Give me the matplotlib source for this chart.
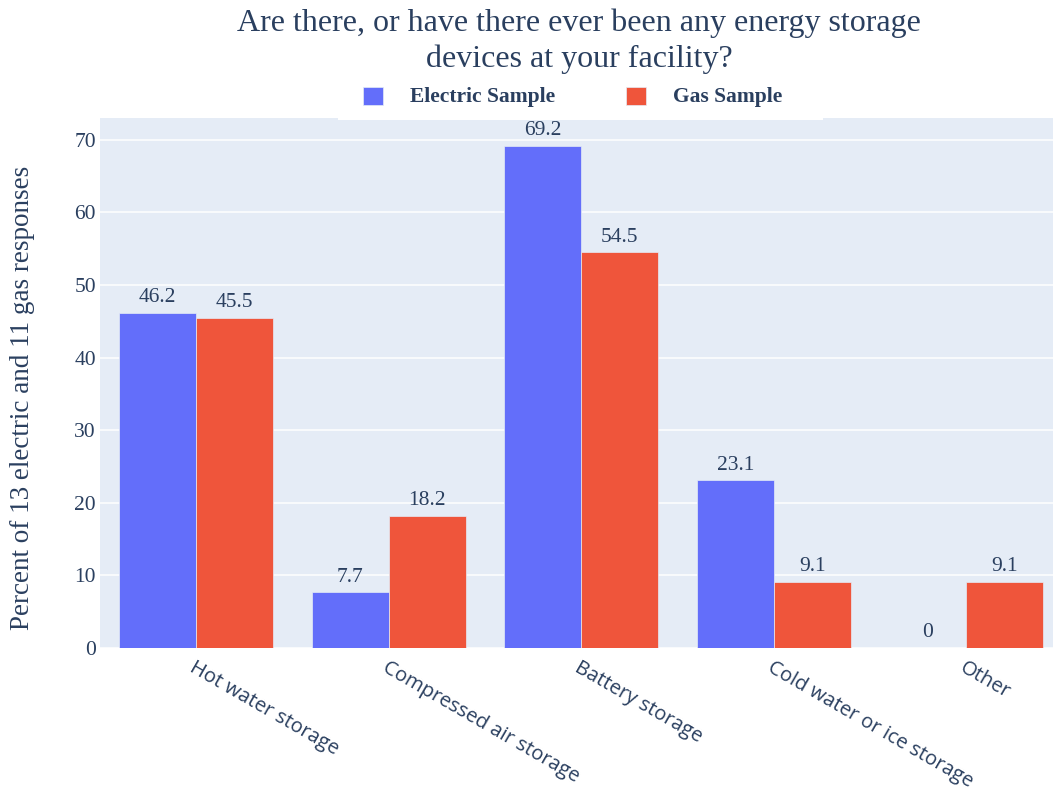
import matplotlib
matplotlib.use("Agg")
import matplotlib.pyplot as plt
from matplotlib.patches import Rectangle
import numpy as np

categories = ["Hot water storage", "Compressed air storage", "Battery storage",
              "Cold water or ice storage", "Other"]
electric = [46.2, 7.7, 69.2, 23.1, 0]
gas = [45.5, 18.2, 54.5, 9.1, 9.1]
series_names = ["Electric Sample", "Gas Sample"]
y_ticks = [0, 10, 20, 30, 40, 50, 60, 70]

BLUE = "#636EFA"
RED = "#EF553B"
BG = "#E5ECF6"
TXT = "#2a3f5f"
SERIF = "Liberation Serif"
SANS = "Open Sans"

W, H = 1053, 796
fig = plt.figure(figsize=(W / 100, H / 100), dpi=100)

# plot area in pixel coordinates
left, right, top, bottom = 100, 1062.5, 118, 648
ax = fig.add_axes([left / W, 1 - bottom / H, (right - left) / W, (bottom - top) / H])
ax.set_facecolor(BG)
for s in ax.spines.values():
    s.set_visible(False)

x = np.arange(len(categories))
bw = 0.4
b1 = ax.bar(x - bw / 2, electric, bw, color=BLUE, edgecolor=BG, linewidth=0.5, zorder=3)
b2 = ax.bar(x + bw / 2, gas, bw, color=RED, edgecolor=BG, linewidth=0.5, zorder=3)

for bars, vals in ((b1, electric), (b2, gas)):
    for rect, v in zip(bars, vals):
        ax.annotate(f"{v:g}", (rect.get_x() + rect.get_width() / 2, v),
                    xytext=(0, 4), textcoords="offset points",
                    ha="center", va="bottom", fontsize=15.5,
                    family=SERIF, color=TXT, zorder=4)

ax.set_xlim(-0.5, len(categories) - 0.5)
ax.set_ylim(0, 73)
ax.set_yticks(y_ticks)
ax.set_yticklabels([str(t) for t in y_ticks], family=SERIF, fontsize=15.5, color=TXT)
ax.yaxis.grid(True, color="white", linewidth=1.1, zorder=0)
ax.set_axisbelow(True)
ax.tick_params(axis="y", length=0, pad=3)
ax.tick_params(axis="x", length=0, pad=7)
ax.set_xticks(x)
ax.set_xticklabels(categories, family=SANS, fontsize=14.5, color=TXT,
                   rotation=-30, ha="left", va="top", rotation_mode="anchor")

ax.set_ylabel("Percent of 13 electric and 11 gas responses", family=SERIF,
              fontsize=19.5, color=TXT)
ax.yaxis.set_label_coords(35 / W, 0.5, transform=fig.transFigure)

# title
fig.text(579 / W, 1 - 41 / H, "Are there, or have there ever been any energy storage\ndevices at your facility?",
         ha="center", va="center", family=SERIF, fontsize=23, color=TXT,
         linespacing=1.3)

# legend box and entries
fig.patches.append(Rectangle((338 / W, 1 - 120 / H), (823 - 338) / W, 42 / H,
                             transform=fig.transFigure, facecolor="white",
                             edgecolor="none", zorder=5))
for name, color, sx, tx in ((series_names[0], BLUE, 363, 410),
                            (series_names[1], RED, 626, 673)):
    fig.patches.append(Rectangle((sx / W, 1 - 105 / H), 20 / W, 18 / H,
                                 transform=fig.transFigure, facecolor=color,
                                 edgecolor=BG, linewidth=0.5, zorder=6))
    fig.text(tx / W, 1 - 97 / H, name, ha="left", va="center", family=SERIF,
             fontsize=15.5, fontweight="bold", color=TXT, zorder=7)

fig.savefig("out.png", dpi=100, facecolor="white")
